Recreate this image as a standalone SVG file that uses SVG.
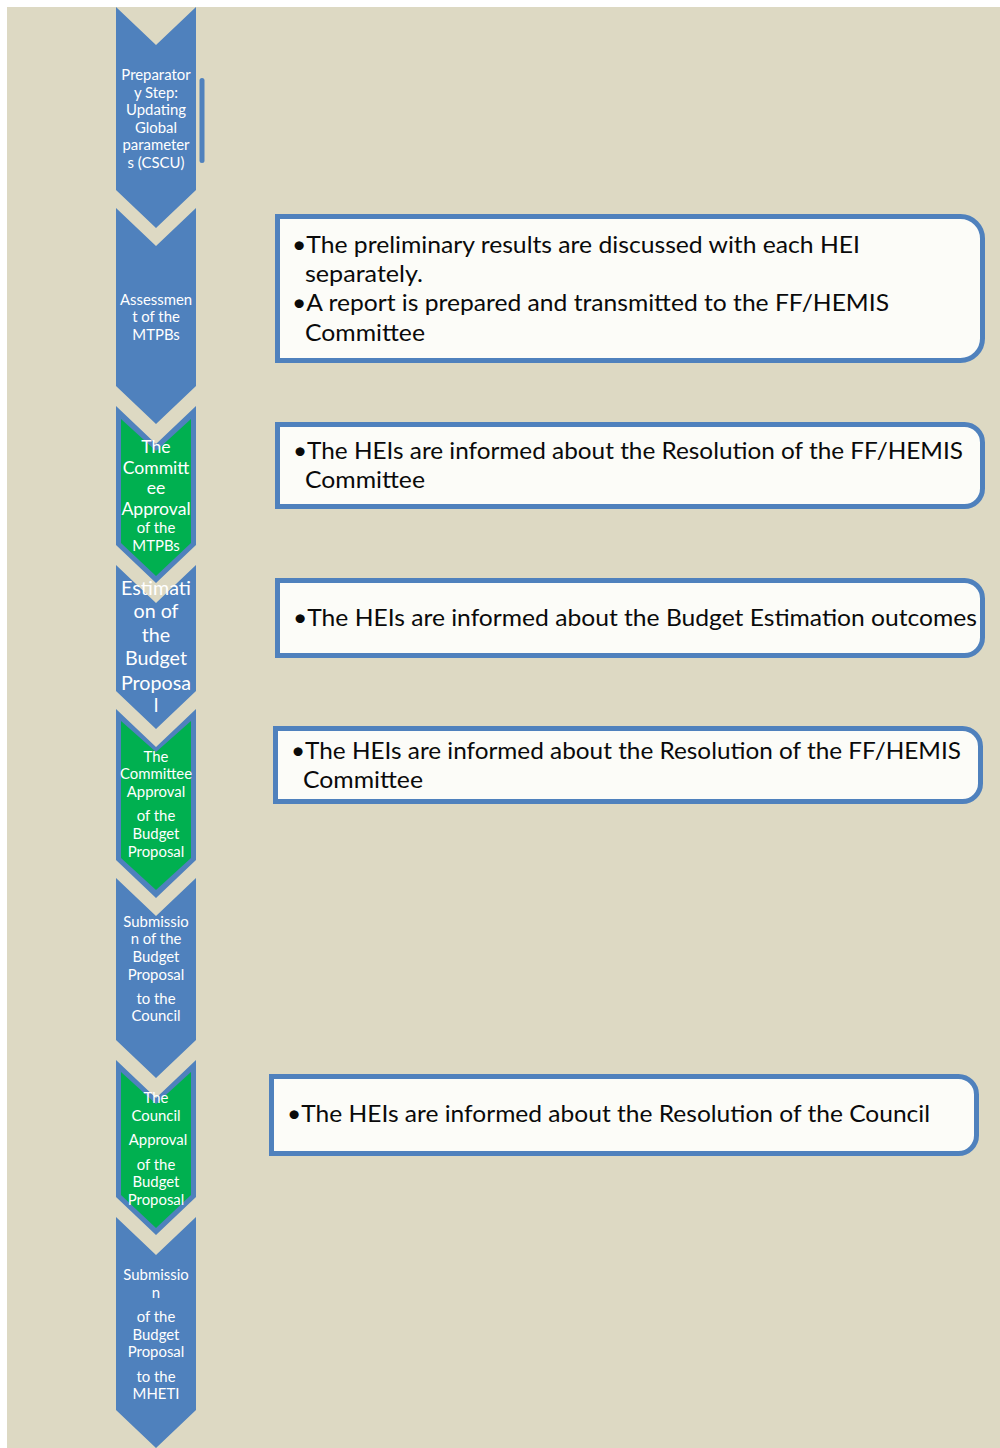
<svg xmlns="http://www.w3.org/2000/svg" width="1000" height="1448" viewBox="0 0 1000 1448">
<style>
.bg{fill:#DDD9C3}
.chev{fill:#4F81BD}
.green{fill:#00B050}
.box{fill:#FCFCF8;stroke:#4F81BD;stroke-width:5}
.ct{font-family:Lato,"Open Sans",sans-serif;fill:#FFFFFF;text-anchor:middle;font-size:14.9px}
.bt{font-family:Lato,"Open Sans",sans-serif;fill:#0A0A0A;font-size:24px}
</style>
<rect x="0" y="0" width="1000" height="1448" fill="#FFFFFF"/>
<rect class="bg" x="7" y="7" width="993" height="1441"/>
<g id="connectors"/>
<g id="step1">
<polygon class="chev" points="116,7 156,45 196,7 196,190 156,228 116,190"/>
<rect class="chev" x="199.5" y="78" width="5" height="85" rx="2.5"/>
<text class="ct"><tspan x="156" y="79.5">Preparator</tspan><tspan x="156" y="97.5">y Step:</tspan><tspan x="156" y="114.5">Updating</tspan><tspan x="156" y="132.5">Global</tspan><tspan x="156" y="149.5">parameter</tspan><tspan x="156" y="167.5">s (CSCU)</tspan></text>
</g>
<g id="step2">
<polygon class="chev" points="116,208 156,246 196,208 196,386 156,424 116,386"/>
<text class="ct"><tspan x="156" y="305">Assessmen</tspan><tspan x="156" y="322">t of the</tspan><tspan x="156" y="340">MTPBs</tspan></text>
</g>
<g id="step3">
<polygon class="chev" points="116,406 156,444 196,406 196,545 156,583 116,545"/>
<polygon class="green" points="121,419 156,451 191,419 191,543 156,576 121,543"/>
<text class="ct" style="font-size:17.6px"><tspan x="156" y="453">The</tspan><tspan x="156" y="474">Committ</tspan><tspan x="156" y="494">ee</tspan><tspan x="156" y="515">Approval</tspan></text>
<text class="ct"><tspan x="156" y="533">of the</tspan><tspan x="156" y="551">MTPBs</tspan></text>
</g>
<g id="step4">
<polygon class="chev" points="116,565 156,603 196,565 196,691 156,729 116,691"/>
<text class="ct" style="font-size:19.7px"><tspan x="156" y="595">Estimati</tspan><tspan x="156" y="618">on of</tspan><tspan x="156" y="642">the</tspan><tspan x="156" y="665">Budget</tspan><tspan x="156" y="689.5">Proposa</tspan><tspan x="156" y="712">l</tspan></text>
</g>
<g id="step5">
<polygon class="chev" points="116,709 156,747 196,709 196,860 156,898 116,860"/>
<polygon class="green" points="121,721 156,752 191,721 191,858 156,890 121,858"/>
<text class="ct"><tspan x="156" y="762">The</tspan><tspan x="156" y="779">Committee</tspan><tspan x="156" y="797">Approval</tspan><tspan x="156" y="821">of the</tspan><tspan x="156" y="839">Budget</tspan><tspan x="156" y="857">Proposal</tspan></text>
</g>
<g id="step6">
<polygon class="chev" points="116,878 156,916 196,878 196,1040 156,1078 116,1040"/>
<text class="ct"><tspan x="156" y="927">Submissio</tspan><tspan x="156" y="944">n of the</tspan><tspan x="156" y="962">Budget</tspan><tspan x="156" y="980">Proposal</tspan><tspan x="156" y="1004">to the</tspan><tspan x="156" y="1021">Council</tspan></text>
</g>
<g id="step7">
<polygon class="chev" points="116,1060 156,1098 196,1060 196,1197 156,1235 116,1197"/>
<polygon class="green" points="121,1072 156,1104 191,1072 191,1195 156,1228 121,1195"/>
<text class="ct"><tspan x="156" y="1103">The</tspan><tspan x="156" y="1121">Council</tspan><tspan x="158" y="1145">Approval</tspan><tspan x="156" y="1170">of the</tspan><tspan x="156" y="1187">Budget</tspan><tspan x="156" y="1205">Proposal</tspan></text>
</g>
<g id="step8">
<polygon class="chev" points="116,1217 156,1255 196,1217 196,1410 156,1448 116,1410"/>
<text class="ct"><tspan x="156" y="1280">Submissio</tspan><tspan x="156" y="1298">n</tspan><tspan x="156" y="1322">of the</tspan><tspan x="156" y="1340">Budget</tspan><tspan x="156" y="1357">Proposal</tspan><tspan x="156" y="1382">to the</tspan><tspan x="156" y="1399">MHETI</tspan></text>
</g>
<g id="box1">
<path class="box" d="M277.5,216.5 H960.5 A22,22 0 0 1 982.5,238.5 V338.5 A22,22 0 0 1 960.5,360.5 H277.5 Z"/>
<text class="bt"><tspan x="292" y="253" textLength="568" lengthAdjust="spacingAndGlyphs">•The preliminary results are discussed with each HEI</tspan></text>
<text class="bt"><tspan x="305" y="282" textLength="118" lengthAdjust="spacingAndGlyphs">separately.</tspan></text>
<text class="bt"><tspan x="292" y="311" textLength="597" lengthAdjust="spacingAndGlyphs">•A report is prepared and transmitted to the FF/HEMIS</tspan></text>
<text class="bt"><tspan x="305" y="341" textLength="120" lengthAdjust="spacingAndGlyphs">Committee</tspan></text>
</g>
<g id="box2">
<path class="box" d="M277.5,424.5 H964.5 A18,18 0 0 1 982.5,442.5 V488.5 A18,18 0 0 1 964.5,506.5 H277.5 Z"/>
<text class="bt"><tspan x="293" y="459" textLength="670" lengthAdjust="spacingAndGlyphs">•The HEIs are informed about the Resolution of the FF/HEMIS</tspan></text>
<text class="bt"><tspan x="305" y="488" textLength="120" lengthAdjust="spacingAndGlyphs">Committee</tspan></text>
</g>
<g id="box3">
<path class="box" d="M277.5,580.5 H964.5 A18,18 0 0 1 982.5,598.5 V637.5 A18,18 0 0 1 964.5,655.5 H277.5 Z"/>
<text class="bt"><tspan x="293" y="626" textLength="684" lengthAdjust="spacingAndGlyphs">•The HEIs are informed about the Budget Estimation outcomes</tspan></text>
</g>
<g id="box4">
<path class="box" d="M275.5,728.5 H962.5 A18,18 0 0 1 980.5,746.5 V783.5 A18,18 0 0 1 962.5,801.5 H275.5 Z"/>
<text class="bt"><tspan x="291" y="759" textLength="670" lengthAdjust="spacingAndGlyphs">•The HEIs are informed about the Resolution of the FF/HEMIS</tspan></text>
<text class="bt"><tspan x="303" y="788" textLength="120" lengthAdjust="spacingAndGlyphs">Committee</tspan></text>
</g>
<g id="box5">
<path class="box" d="M271.5,1076.5 H958.5 A18,18 0 0 1 976.5,1094.5 V1135.5 A18,18 0 0 1 958.5,1153.5 H271.5 Z"/>
<text class="bt"><tspan x="287" y="1122" textLength="643" lengthAdjust="spacingAndGlyphs">•The HEIs are informed about the Resolution of the Council</tspan></text>
</g>
</svg>
